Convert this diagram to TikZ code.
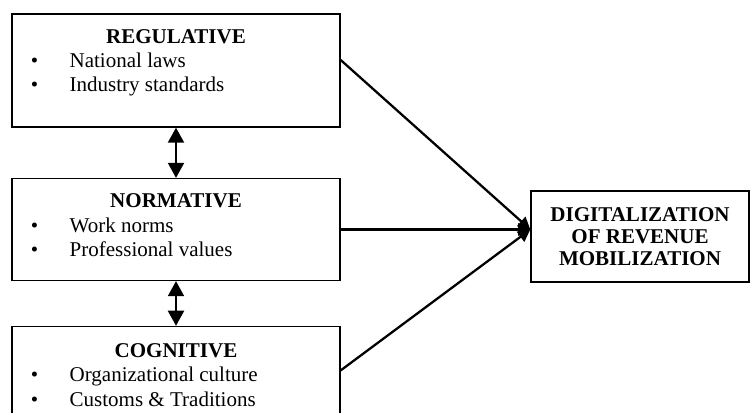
\documentclass[tikz,border=0pt]{standalone}
\usepackage{fontspec}
\setmainfont{Liberation Serif}
\usepackage{tikz}
\usetikzlibrary{arrows.meta, positioning}
\definecolor{myblack}{RGB}{0,0,0}
\newcommand{\bitem}[1]{\makebox[22.1pt][l]{\textbullet}#1}
\tikzset{
  catbox/.style={rectangle, draw=myblack, minimum width=187.3pt,
    inner sep=0pt, line width=0.75pt},
  outbox/.style={rectangle, draw=myblack, minimum width=124.5pt,
    minimum height=52pt, align=center, inner sep=0pt, line width=0.75pt,
    font=\fontsize{12}{12.6}\selectfont\bfseries},
  cattitle/.style={anchor=base, inner sep=0pt,
    font=\fontsize{12}{13.8}\selectfont\bfseries},
  catitems/.style={anchor=base west, inner sep=0pt,
    font=\fontsize{12}{13.8}\selectfont},
  dblarrow/.style={{Triangle[length=8.6pt, width=9.1pt]}-{Triangle[length=8.6pt, width=9.1pt]},
    line width=1.3pt, color=myblack},
  arrow/.style={-{Triangle[length=7pt, width=7pt]}, line width=1.3pt, color=myblack}
}
\begin{document}
\begin{tikzpicture}[x=0.571pt, y=-0.571pt]
  \path[use as bounding box, clip] (0,0) rectangle (750,413);

  % Institutional pillars
  \node[catbox, minimum height=64.5pt] (reg) at (176,70.5) {};
  \node[catbox, minimum height=58.2pt, below=28.7pt of reg] (norm) {};
  \node[catbox, minimum height=66.2pt, below=25.5pt of norm] (cog) {};

  % Outcome
  \node[outbox] (digit) at (640,236.5) {DIGITALIZATION\\OF REVENUE\\MOBILIZATION};
  \coordinate (join) at (digit.west |- norm.east);

  % Box contents
  \node[cattitle] (regtitle) at ([yshift=-17pt]reg.north) {REGULATIVE};
  \node[catitems] (regitems) at ([xshift=11pt, yshift=-31pt]reg.north west)
    {\begin{tabular}[t]{@{}l@{}}\bitem{National laws}\\\bitem{Industry standards}\end{tabular}};
  \node[cattitle] (normtitle) at ([yshift=-17pt]norm.north) {NORMATIVE};
  \node[catitems] (normitems) at ([xshift=11pt, yshift=-31pt]norm.north west)
    {\begin{tabular}[t]{@{}l@{}}\bitem{Work norms}\\\bitem{Professional values}\end{tabular}};
  \node[cattitle] (cogtitle) at ([yshift=-18pt]cog.north) {COGNITIVE};
  \node[catitems] (cogitems) at ([xshift=11pt, yshift=-32pt]cog.north west)
    {\begin{tabular}[t]{@{}l@{}}\bitem{Organizational culture}\\\bitem{Customs \& Traditions}\end{tabular}};

  % Connections
  \draw[dblarrow] (reg) -- (norm);
  \draw[dblarrow] (norm) -- (cog);
  \draw[arrow] ([yshift=6pt]reg.east) -- (join);
  \draw[arrow] (norm.east) -- (join);
  \draw[arrow] ([yshift=8pt]cog.east) -- (join);
\end{tikzpicture}
\end{document}
